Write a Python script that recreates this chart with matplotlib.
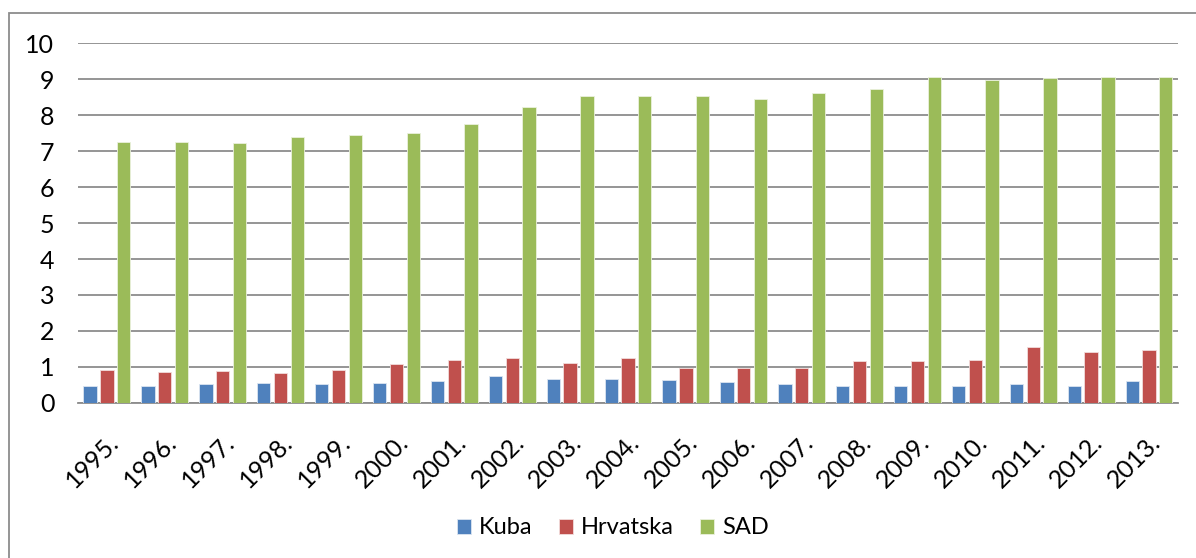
import numpy as np
import matplotlib.pyplot as plt
from matplotlib.patches import Rectangle

# Podaci
godine = ['1995.', '1996.', '1997.', '1998.', '1999.', '2000.', '2001.', '2002.', '2003.', '2004.',
          '2005.', '2006.', '2007.', '2008.', '2009.', '2010.', '2011.', '2012.', '2013.']
kuba = [0.48, 0.48, 0.52, 0.55, 0.52, 0.55, 0.60, 0.75, 0.66, 0.66,
        0.63, 0.57, 0.52, 0.48, 0.48, 0.48, 0.52, 0.48, 0.60]
hrvatska = [0.93, 0.87, 0.90, 0.83, 0.93, 1.07, 1.19, 1.25, 1.10, 1.25,
            0.96, 0.96, 0.96, 1.16, 1.16, 1.19, 1.55, 1.43, 1.46]
sad = [7.24, 7.24, 7.21, 7.39, 7.44, 7.51, 7.74, 8.22, 8.52, 8.52,
       8.52, 8.45, 8.61, 8.72, 9.06, 8.98, 9.02, 9.06, 9.06]

plt.rcParams['font.family'] = ['Lato', 'DejaVu Sans']

fig = plt.figure(figsize=(11.96, 5.58), dpi=100)
ax = fig.add_axes([0.0652, 0.2778, 0.9197, 0.6451])

x = np.arange(len(godine))
w = 0.23
off = 0.29
ax.bar(x - off, kuba, w, color='#4F81BD', edgecolor='#dbe5f1', linewidth=0.6, label='Kuba', zorder=3)
ax.bar(x, hrvatska, w, color='#C0504D', edgecolor='#f2dcdb', linewidth=0.6, label='Hrvatska', zorder=3)
ax.bar(x + off, sad, w, color='#9BBB59', edgecolor='#ebf1dd', linewidth=0.6, label='SAD', zorder=3)

ax.set_xlim(-0.5, len(godine) - 0.5)
ax.set_ylim(0, 10)
ax.set_yticks(range(0, 11))
ax.grid(axis='y', color='#8c8c8c', linewidth=1.3, zorder=0)
ax.set_xticks(x)
ax.set_xticklabels(godine, rotation=45, ha='right', rotation_mode='anchor', fontsize=18)
ax.tick_params(axis='x', length=0, pad=20)
ax.tick_params(axis='y', length=0, pad=17, labelsize=18)

for s in ['top', 'right', 'left']:
    ax.spines[s].set_visible(False)
ax.spines['bottom'].set_color('#8c8c8c')
ax.spines['bottom'].set_linewidth(1.3)

fig.legend(loc='center', bbox_to_anchor=(613 / 1196, 1 - 528 / 558), ncol=3, frameon=False,
           fontsize=17, handlelength=0.6, handleheight=0.6, handletextpad=0.35, columnspacing=1.1)

# okvir
fig.patches.append(Rectangle((9 / 1196, -0.01), 1.02, 1 - 13 / 558 + 0.01, transform=fig.transFigure,
                             fill=False, edgecolor='#8c8c8c', linewidth=1.3))

fig.savefig('out.png', dpi=100)
